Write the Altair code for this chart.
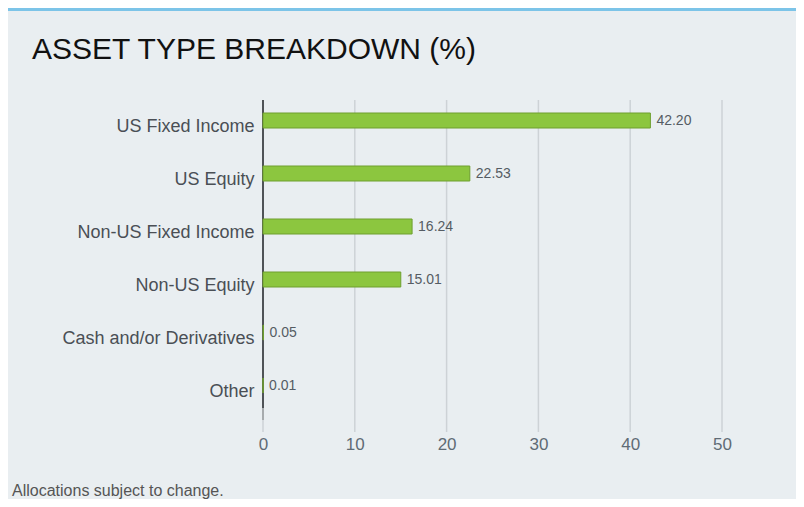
import altair as alt
import pandas as pd

categories = ["US Fixed Income", "US Equity", "Non-US Fixed Income",
              "Non-US Equity", "Cash and/or Derivatives", "Other"]
values = [42.20, 22.53, 16.24, 15.01, 0.05, 0.01]
tick_values = [0, 10, 20, 30, 40, 50]
title_text = "ASSET TYPE BREAKDOWN (%)"
note_text = "Allocations subject to change."

FONT = "Liberation Sans"
df = pd.DataFrame({"category": categories, "value": values})
ticks_df = pd.DataFrame({"tick": tick_values})
one = pd.DataFrame({"k": [0]})

xscale = alt.Scale(domain=[0, 50], nice=False)
xaxis = alt.Axis(title=None, values=tick_values, domain=False, ticks=False,
                 grid=False, labelFontSize=17, labelColor="#5f6b75",
                 labelPadding=24, labelFlush=False, labelFont=FONT)

grid = alt.Chart(ticks_df).mark_rule(color="#cdd2d6", strokeWidth=1.5).encode(
    x=alt.X("tick:Q", scale=xscale, axis=xaxis),
    y=alt.value(6), y2=alt.value(338),
)

axis_line = alt.Chart(one).mark_rule(color="#4f5357", strokeWidth=2).encode(
    x=alt.value(0), y=alt.value(6), y2=alt.value(314),
)
axis_line2 = alt.Chart(one).mark_rule(color="#a7abae", strokeWidth=2).encode(
    x=alt.value(0), y=alt.value(314), y2=alt.value(326),
)

bars = alt.Chart(df).mark_bar(
    height=15, color="#8cc63f", stroke="#6e9f2f", strokeWidth=1
).encode(
    x=alt.X("value:Q", scale=xscale, axis=xaxis),
    y=alt.Y("category:N", sort=categories,
            axis=alt.Axis(title=None, domain=False, ticks=False, grid=False,
                          labelFontSize=18, labelColor="#4a4f55", labelPadding=9,
                          labelOffset=6, labelFont=FONT, labelLimit=400)),
)

labels = alt.Chart(df).mark_text(
    align="left", baseline="middle", dx=6, fontSize=14, color="#555c63", font=FONT
).encode(
    x=alt.X("value:Q", scale=xscale),
    y=alt.Y("category:N", sort=categories),
    text=alt.Text("value:Q", format=".2f"),
)

title = alt.Chart(one).mark_text(
    align="left", baseline="middle", fontSize=30, color="#111111", font=FONT
).encode(x=alt.value(-231), y=alt.value(-44), text=alt.value(title_text))

note = alt.Chart(one).mark_text(
    align="left", baseline="middle", fontSize=16, color="#555555", font=FONT
).encode(x=alt.value(-251), y=alt.value(397), text=alt.value(note_text))

topline = alt.Chart(one).mark_rule(color="#7cc4e8", strokeWidth=3).encode(
    x=alt.value(-255), x2=alt.value(533), y=alt.value(-84.5),
)

chart = alt.layer(grid, axis_line, axis_line2, bars, labels, title, note, topline).properties(
    width=459, height=318,
    autosize=alt.AutoSizeParams(type="none"),
    padding={"left": 255, "top": 86, "right": 74, "bottom": 87},
    background="#e9eef1",
).configure_view(stroke=None)

chart.save("out.html", embed_options={"renderer": "svg", "actions": False})
